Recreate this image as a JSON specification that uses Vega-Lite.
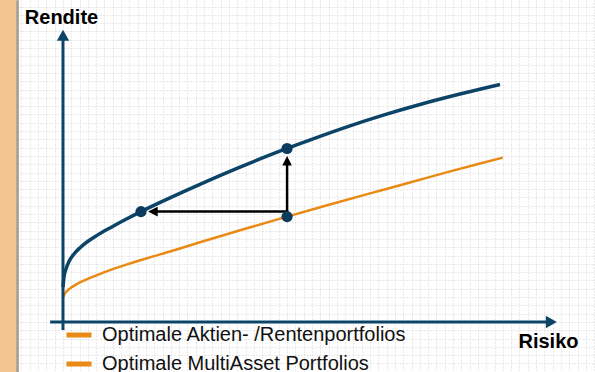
{
  "$schema": "https://vega.github.io/schema/vega-lite/v6.json",
  "width": 576,
  "height": 372,
  "autosize": {"type": "none"},
  "padding": {"left": 19, "top": 0, "right": 0, "bottom": 0},
  "background": "#F2C48E",
  "config": {
    "view": {"fill": "#FFFFFF", "stroke": null},
    "font": "Liberation Sans"
  },
  "datasets": {
    "kurven": [
      {"portfolio": "Optimale MultiAsset Portfolios", "risiko": 0, "rendite": 8.43},
      {"portfolio": "Optimale MultiAsset Portfolios", "risiko": 0.24, "rendite": 10.84},
      {"portfolio": "Optimale MultiAsset Portfolios", "risiko": 0.72, "rendite": 12.77},
      {"portfolio": "Optimale MultiAsset Portfolios", "risiko": 1.45, "rendite": 14.58},
      {"portfolio": "Optimale MultiAsset Portfolios", "risiko": 2.65, "rendite": 16.39},
      {"portfolio": "Optimale MultiAsset Portfolios", "risiko": 4.10, "rendite": 17.90},
      {"portfolio": "Optimale MultiAsset Portfolios", "risiko": 6.02, "rendite": 19.45},
      {"portfolio": "Optimale MultiAsset Portfolios", "risiko": 8.19, "rendite": 20.87},
      {"portfolio": "Optimale MultiAsset Portfolios", "risiko": 11.33, "rendite": 22.67},
      {"portfolio": "Optimale MultiAsset Portfolios", "risiko": 14.94, "rendite": 24.63},
      {"portfolio": "Optimale MultiAsset Portfolios", "risiko": 19.76, "rendite": 27.08},
      {"portfolio": "Optimale MultiAsset Portfolios", "risiko": 25.78, "rendite": 29.92},
      {"portfolio": "Optimale MultiAsset Portfolios", "risiko": 33.01, "rendite": 33.17},
      {"portfolio": "Optimale MultiAsset Portfolios", "risiko": 41.93, "rendite": 37.01},
      {"portfolio": "Optimale MultiAsset Portfolios", "risiko": 47.47, "rendite": 39.28},
      {"portfolio": "Optimale MultiAsset Portfolios", "risiko": 53.98, "rendite": 41.81},
      {"portfolio": "Optimale MultiAsset Portfolios", "risiko": 61.93, "rendite": 44.75},
      {"portfolio": "Optimale MultiAsset Portfolios", "risiko": 69.16, "rendite": 47.28},
      {"portfolio": "Optimale MultiAsset Portfolios", "risiko": 77.59, "rendite": 49.98},
      {"portfolio": "Optimale MultiAsset Portfolios", "risiko": 86.02, "rendite": 52.42},
      {"portfolio": "Optimale MultiAsset Portfolios", "risiko": 95.66, "rendite": 54.93},
      {"portfolio": "Optimale MultiAsset Portfolios", "risiko": 105.30, "rendite": 57.24},
      {"portfolio": "Optimale Aktien- /Rentenportfolios", "risiko": 0, "rendite": 6.0},
      {"portfolio": "Optimale Aktien- /Rentenportfolios", "risiko": 0.7, "rendite": 7.2},
      {"portfolio": "Optimale Aktien- /Rentenportfolios", "risiko": 1.7, "rendite": 8.1},
      {"portfolio": "Optimale Aktien- /Rentenportfolios", "risiko": 3.1, "rendite": 9.0},
      {"portfolio": "Optimale Aktien- /Rentenportfolios", "risiko": 5.3, "rendite": 10.1},
      {"portfolio": "Optimale Aktien- /Rentenportfolios", "risiko": 8.2, "rendite": 11.3},
      {"portfolio": "Optimale Aktien- /Rentenportfolios", "risiko": 11.3, "rendite": 12.5},
      {"portfolio": "Optimale Aktien- /Rentenportfolios", "risiko": 14.9, "rendite": 13.7},
      {"portfolio": "Optimale Aktien- /Rentenportfolios", "risiko": 20.0, "rendite": 15.3},
      {"portfolio": "Optimale Aktien- /Rentenportfolios", "risiko": 25.8, "rendite": 17.0},
      {"portfolio": "Optimale Aktien- /Rentenportfolios", "risiko": 33.0, "rendite": 19.2},
      {"portfolio": "Optimale Aktien- /Rentenportfolios", "risiko": 42.7, "rendite": 22.1},
      {"portfolio": "Optimale Aktien- /Rentenportfolios", "risiko": 54.0, "rendite": 25.4},
      {"portfolio": "Optimale Aktien- /Rentenportfolios", "risiko": 64.3, "rendite": 28.3},
      {"portfolio": "Optimale Aktien- /Rentenportfolios", "risiko": 74.0, "rendite": 31.0},
      {"portfolio": "Optimale Aktien- /Rentenportfolios", "risiko": 83.6, "rendite": 33.6},
      {"portfolio": "Optimale Aktien- /Rentenportfolios", "risiko": 93.3, "rendite": 36.3},
      {"portfolio": "Optimale Aktien- /Rentenportfolios", "risiko": 100.5, "rendite": 38.2},
      {"portfolio": "Optimale Aktien- /Rentenportfolios", "risiko": 106.0, "rendite": 39.6}
    ],
    "linien": [
      {"teil": "achse", "risiko": 0, "risiko2": 0, "rendite": -1.9, "rendite2": 68.2},
      {"teil": "achse", "risiko": -3.1, "risiko2": 116.8, "rendite": 0, "rendite2": 0},
      {"teil": "pfeil", "risiko": 54.3, "risiko2": 22.6, "rendite": 26.6, "rendite2": 26.6},
      {"teil": "pfeil", "risiko": 54.0, "risiko2": 54.0, "rendite": 26.3, "rendite2": 38.1}
    ],
    "spitzen": [
      {"teil": "achse", "richtung": "oben", "risiko": 0, "rendite": 70.4},
      {"teil": "achse", "richtung": "rechts", "risiko": 119.0, "rendite": 0},
      {"teil": "pfeil", "richtung": "links", "risiko": 20.5, "rendite": 26.6},
      {"teil": "pfeil", "richtung": "oben", "risiko": 54.0, "rendite": 40.0}
    ],
    "portfolios": [
      {"lage": "MultiAsset, geringeres Risiko", "risiko": 18.8, "rendite": 26.6},
      {"lage": "MultiAsset, gleiches Risiko", "risiko": 54.0, "rendite": 41.8},
      {"lage": "Aktien/Renten", "risiko": 54.0, "rendite": 25.4}
    ]
  },
  "encoding": {
    "x": {
      "field": "risiko", "type": "quantitative",
      "scale": {"domain": [-10.6, 128.2], "nice": false, "zero": false},
      "axis": {
        "title": "Risiko", "grid": true, "gridColor": "#D4D4D4", "gridDash": [1, 2], "gridWidth": 1,
        "tickCount": 70, "labels": false, "ticks": false, "domain": false,
        "titleFont": "Liberation Sans", "titleFontSize": 20, "titleFontWeight": "bold", "titleColor": "#000000",
        "titleX": 529, "titleY": -31, "titleAlign": "center", "titleBaseline": "middle", "titleAngle": 0
      }
    },
    "y": {
      "field": "rendite", "type": "quantitative",
      "scale": {"domain": [-12.05, 77.59], "nice": false, "zero": false},
      "axis": {
        "title": "Rendite", "grid": true, "gridColor": "#D4D4D4", "gridDash": [1, 2], "gridWidth": 1,
        "tickCount": 45, "labels": false, "ticks": false, "domain": true,
        "domainColor": "#A0A0A0", "domainWidth": 2.5, "offset": 2,
        "titleFont": "Liberation Sans", "titleFontSize": 20, "titleFontWeight": "bold", "titleColor": "#000000",
        "titleX": 44, "titleY": 17, "titleAlign": "center", "titleBaseline": "middle", "titleAngle": 0
      }
    }
  },
  "layer": [
    {
      "data": {"name": "kurven"},
      "transform": [{"filter": "datum.portfolio === 'Optimale MultiAsset Portfolios'"}],
      "mark": {"type": "line", "interpolate": "monotone", "color": "#0C4468", "strokeWidth": 3.5}
    },
    {
      "data": {"name": "kurven"},
      "transform": [{"filter": "datum.portfolio === 'Optimale Aktien- /Rentenportfolios'"}],
      "mark": {"type": "line", "interpolate": "monotone", "strokeWidth": 2.5},
      "encoding": {
        "color": {
          "field": "portfolio", "type": "nominal",
          "scale": {"domain": ["Optimale Aktien- /Rentenportfolios", "Optimale MultiAsset Portfolios"], "range": ["#E98A14", "#E98A14"]},
          "legend": {
            "orient": "none", "legendX": 45, "legendY": 320, "title": null, "padding": 0,
            "symbolType": "stroke", "symbolSize": 625, "symbolStrokeWidth": 5,
            "labelFont": "Liberation Sans", "labelFontSize": 20, "labelColor": "#111111",
            "labelOffset": 8, "labelLimit": 400, "rowPadding": 4
          }
        }
      }
    },
    {
      "data": {"name": "linien"},
      "transform": [{"filter": "datum.teil === 'achse'"}],
      "mark": {"type": "rule", "color": "#0C4468", "strokeWidth": 3},
      "encoding": {"x2": {"field": "risiko2"}, "y2": {"field": "rendite2"}}
    },
    {
      "data": {"name": "linien"},
      "transform": [{"filter": "datum.teil === 'pfeil'"}],
      "mark": {"type": "rule", "color": "#000000", "strokeWidth": 2.5},
      "encoding": {"x2": {"field": "risiko2"}, "y2": {"field": "rendite2"}}
    },
    {
      "data": {"name": "spitzen"},
      "transform": [{"filter": "datum.teil === 'achse' && datum.richtung === 'oben'"}],
      "mark": {"type": "point", "shape": "M0,0L0.9,1.6L-0.9,1.6Z", "size": 189, "filled": true, "opacity": 1, "color": "#0C4468", "strokeWidth": 0}
    },
    {
      "data": {"name": "spitzen"},
      "transform": [{"filter": "datum.teil === 'achse' && datum.richtung === 'rechts'"}],
      "mark": {"type": "point", "shape": "M0,0L0.9,1.6L-0.9,1.6Z", "angle": 90, "size": 189, "filled": true, "opacity": 1, "color": "#0C4468", "strokeWidth": 0}
    },
    {
      "data": {"name": "portfolios"},
      "mark": {"type": "point", "shape": "circle", "size": 125, "filled": true, "opacity": 1, "color": "#0B3C5D", "strokeWidth": 0}
    },
    {
      "data": {"name": "spitzen"},
      "transform": [{"filter": "datum.teil === 'pfeil' && datum.richtung === 'links'"}],
      "mark": {"type": "point", "shape": "M0,0L0.8,1.6L-0.8,1.6Z", "angle": 270, "size": 144, "filled": true, "opacity": 1, "color": "#000000", "strokeWidth": 0}
    },
    {
      "data": {"name": "spitzen"},
      "transform": [{"filter": "datum.teil === 'pfeil' && datum.richtung === 'oben'"}],
      "mark": {"type": "point", "shape": "M0,0L0.8,1.6L-0.8,1.6Z", "size": 144, "filled": true, "opacity": 1, "color": "#000000", "strokeWidth": 0}
    }
  ]
}
